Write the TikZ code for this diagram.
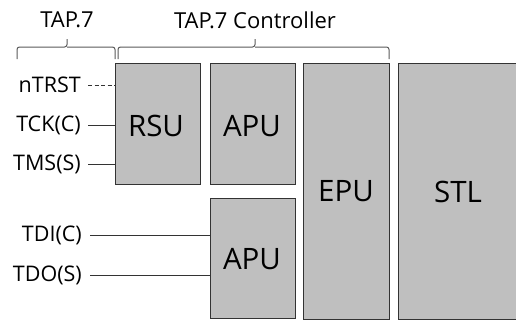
\documentclass[tikz,border=0pt]{standalone}
\usepackage{fontspec}
\setmainfont{Open Sans}
\begin{document}
\begin{tikzpicture}[x=1pt,y=-1pt,
  blk/.style={draw=black!80,fill=black!25,line width=1.3pt,inner sep=0pt},
  sig/.style={anchor=east,font=\fontsize{21.5}{23}\selectfont,inner sep=0pt},
  wire/.style={draw=black!80,line width=1pt},
  brc/.style={draw=black!65,line width=1pt,rounded corners=2.5pt},
  lbl/.style={font=\fontsize{29.5}{31}\selectfont,inner sep=0pt},
  ttl/.style={font=\fontsize{22}{24}\selectfont,inner sep=0pt}]
\useasboundingbox (0,0) rectangle (516,322);
\begin{scope}
\clip (0,0) rectangle (516,322);
\node[blk,minimum width=85pt,minimum height=121pt,anchor=north west] (rsu) at (115,63) {};
\node[blk,minimum width=85pt,minimum height=121pt,anchor=north west] (apu1) at (210,63) {};
\node[blk,minimum width=85pt,minimum height=120pt,anchor=north west] (apu2) at (210,198) {};
\node[blk,minimum width=86pt,minimum height=256pt,anchor=north west] (epu) at (303,63) {};
\node[blk,minimum width=124pt,minimum height=256pt,anchor=north west] (stl) at (398,63) {};
\end{scope}
\node[lbl] at (156,126) {RSU};
\node[lbl] at (252,126) {APU};
\node[lbl] at (252,259) {APU};
\node[lbl] at (346,191) {EPU};
\node[lbl] at (458,192) {STL};
\node[sig] (ntrst) at (81,85) {nTRST};
\node[sig] (tck) at (81,125) {TCK(C)};
\node[sig] (tms) at (81,164) {TMS(S)};
\node[sig] (tdi) at (82,235) {TDI(C)};
\node[sig] (tdo) at (82,275) {TDO(S)};
\coordinate (ntrstE) at (88,85);
\coordinate (tckE) at (88,125);
\coordinate (tmsE) at (88,164);
\coordinate (tdiE) at (90,235);
\coordinate (tdoE) at (90,275);
\draw[wire,dash pattern=on 4pt off 2.5pt] (ntrstE) -- (rsu.west |- ntrstE);
\draw[wire] (tckE) -- (rsu.west |- tckE);
\draw[wire] (tmsE) -- (rsu.west |- tmsE);
\draw[wire] (tdiE) -- (apu2.west |- tdiE);
\draw[wire] (tdoE) -- (apu2.west |- tdoE);
\draw[brc] (17,59) -- (17,47) -- (67,47) -- (67,39) (67,47) -- (115,47) -- (115,59);
\draw[brc] (118,59) -- (118,47) -- (255,47) -- (255,39) (255,47) -- (389,47) -- (389,59);
\node[ttl] (t1) at (67,20) {TAP.7};
\node[ttl] (t2) at (255,20) {TAP.7 Controller};
\end{tikzpicture}
\end{document}
